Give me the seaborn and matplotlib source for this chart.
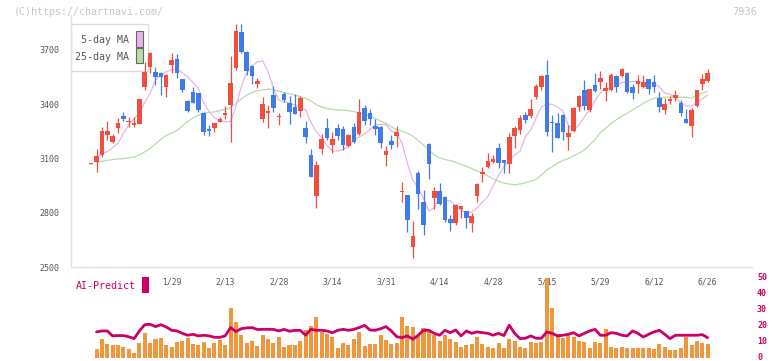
import numpy as np
import matplotlib
matplotlib.use("Agg")
import matplotlib.pyplot as plt
import matplotlib.transforms as mtransforms
from matplotlib.patches import Rectangle
import seaborn as sns

# ---- data ----
opens = [3073, 3082, 3120, 3231, 3194, 3271, 3333, 3300, 3286, 3291,
         3494, 3608, 3578, 3575, 3497, 3617, 3650, 3540, 3418, 3466,
         3461, 3350, 3262, 3268, 3304, 3341, 3396, 3599, 3798, 3687,
         3611, 3510, 3317, 3350, 3451, 3330, 3457, 3405, 3383, 3365,
         3269, 3120, 2895, 3153, 3269, 3175, 3269, 3264, 3170, 3276,
         3236, 3381, 3350, 3280, 3276, 3120, 3199, 3227, 2918, 2899,
         2614, 3019, 2862, 3181, 2881, 2921, 2890, 2768, 2746, 2824,
         2811, 2746, 2895, 3017, 3056, 3080, 3157, 3093, 3069, 3225,
         3258, 3339, 3335, 3442, 3497, 3562, 3300, 3295, 3339, 3221,
         3254, 3387, 3479, 3369, 3507, 3525, 3475, 3479, 3556, 3558,
         3571, 3494, 3512, 3494, 3538, 3521, 3437, 3369, 3420, 3433,
         3409, 3319, 3282, 3390, 3512, 3529]
highs = [3076, 3152, 3275, 3308, 3235, 3323, 3359, 3332, 3332, 3432,
         3635, 3687, 3608, 3578, 3565, 3685, 3678, 3542, 3422, 3494,
         3463, 3360, 3286, 3300, 3332, 3390, 3667, 3842, 3842, 3695,
         3615, 3547, 3439, 3396, 3501, 3350, 3468, 3446, 3459, 3446,
         3308, 3153, 3087, 3236, 3326, 3247, 3291, 3280, 3235, 3298,
         3431, 3396, 3372, 3319, 3280, 3172, 3231, 3280, 2973, 2900,
         2757, 3032, 2927, 3188, 2945, 2967, 2893, 2789, 2848, 2840,
         2813, 2801, 2967, 3052, 3129, 3120, 3185, 3095, 3240, 3280,
         3339, 3355, 3429, 3512, 3562, 3645, 3340, 3350, 3345, 3286,
         3387, 3451, 3534, 3485, 3575, 3586, 3525, 3575, 3562, 3603,
         3578, 3512, 3562, 3562, 3540, 3562, 3466, 3437, 3446, 3479,
         3424, 3374, 3378, 3481, 3567, 3595]
lows = [3070, 3028, 3110, 3203, 3185, 3241, 3310, 3276, 3276, 3289,
        3479, 3571, 3507, 3452, 3442, 3575, 3544, 3468, 3355, 3405,
        3358, 3233, 3225, 3245, 3300, 3320, 3194, 3590, 3685, 3562,
        3510, 3488, 3304, 3271, 3359, 3286, 3413, 3291, 3345, 3328,
        3185, 2998, 2829, 3126, 3203, 3130, 3203, 3150, 3162, 3186,
        3231, 3286, 3286, 3231, 3157, 3061, 3151, 3162, 2862, 2697,
        2553, 2822, 2678, 2986, 2822, 2845, 2750, 2700, 2735, 2771,
        2719, 2697, 2862, 2969, 3050, 3075, 3050, 3022, 3022, 3160,
        3234, 3298, 3323, 3429, 3479, 3225, 3138, 3214, 3203, 3148,
        3249, 3363, 3369, 3358, 3470, 3485, 3418, 3475, 3470, 3550,
        3465, 3429, 3460, 3488, 3457, 3470, 3356, 3345, 3402, 3418,
        3337, 3296, 3221, 3385, 3479, 3525]
closes = [3073, 3114, 3253, 3253, 3227, 3295, 3321, 3305, 3295, 3429,
          3578, 3685, 3549, 3550, 3562, 3645, 3571, 3479, 3363, 3409,
          3369, 3245, 3255, 3295, 3319, 3350, 3516, 3805, 3691, 3584,
          3558, 3530, 3402, 3363, 3381, 3333, 3424, 3359, 3348, 3437,
          3221, 3000, 3065, 3208, 3214, 3208, 3225, 3175, 3229, 3190,
          3358, 3310, 3317, 3265, 3188, 3144, 3175, 3247, 2923, 2761,
          2673, 2905, 2734, 3070, 2921, 2850, 2761, 2746, 2844, 2838,
          2774, 2783, 2960, 3026, 3087, 3098, 3074, 3074, 3218, 3269,
          3324, 3313, 3374, 3501, 3556, 3249, 3295, 3216, 3249, 3243,
          3381, 3448, 3390, 3485, 3475, 3547, 3490, 3562, 3497, 3595,
          3470, 3464, 3530, 3521, 3485, 3494, 3387, 3402, 3429, 3451,
          3354, 3298, 3369, 3479, 3540, 3575]

ma5 = [np.nan, 3111, 3125, 3138, 3160, 3185, 3240, 3286, 3320, 3352,
       3410, 3462, 3534, 3560, 3580, 3590, 3595, 3575, 3552, 3520,
       3488, 3407, 3360, 3324, 3310, 3304, 3304, 3387, 3497, 3573,
       3610, 3635, 3639, 3580, 3488, 3424, 3412, 3407, 3395, 3383,
       3369, 3300, 3250, 3214, 3170, 3142, 3142, 3150, 3166, 3203,
       3220, 3236, 3260, 3286, 3291, 3287, 3253, 3241, 3185, 3074,
       2982, 2940, 2880, 2810, 2830, 2890, 2872, 2866, 2840, 2816,
       2800, 2805, 2830, 2860, 2890, 2950, 3010, 3055, 3090, 3120,
       3140, 3221, 3258, 3324, 3387, 3400, 3400, 3385, 3365, 3286,
       3258, 3286, 3330, 3369, 3420, 3465, 3488, 3488, 3500, 3520,
       3525, 3525, 3525, 3522, 3518, 3516, 3497, 3461, 3455, 3435,
       3410, 3391, 3391, 3410, 3430, 3451]
ma25 = [np.nan, 3080, 3085, 3090, 3095, 3098, 3101, 3105, 3110, 3120,
        3138, 3157, 3182, 3207, 3228, 3240, 3255, 3280, 3305, 3325,
        3340, 3350, 3355, 3358, 3365, 3372, 3380, 3405, 3430, 3450,
        3465, 3475, 3480, 3483, 3483, 3472, 3465, 3458, 3451, 3442,
        3433, 3418, 3398, 3385, 3378, 3372, 3369, 3367, 3365, 3360,
        3352, 3345, 3335, 3322, 3308, 3295, 3275, 3262, 3252, 3240,
        3225, 3200, 3175, 3150, 3120, 3105, 3095, 3089, 3080, 3068,
        3058, 3045, 3032, 3020, 3005, 2988, 2975, 2965, 2960, 2955,
        2960, 2966, 2975, 2985, 3010, 3037, 3055, 3075, 3090, 3100,
        3115, 3130, 3148, 3175, 3205, 3245, 3268, 3295, 3315, 3335,
        3350, 3370, 3387, 3405, 3420, 3433, 3436, 3439, 3440, 3440,
        3440, 3438, 3435, 3450, 3462, 3470]

volume = [np.nan, 5.6, 11.9, 8.75, 8.1, 8.1, 7.3, 5.6, 3.5, 9.4,
          15.6, 9.8, 11.9, 12.5, 8.1, 7.3, 10.2, 10.8, 12.5, 8.75,
          8.1, 10.2, 6.7, 9.4, 11.25, 8.1, 31.7, 22.7, 14.4, 9.4,
          10.8, 7.5, 14.4, 11.9, 9.4, 13.5, 7.3, 8.1, 8.1, 10.8,
          17.5, 20.2, 25.8, 16.5, 15, 13.5, 6.25, 9.4, 8.1, 11.9,
          16.5, 7.7, 8.75, 8.75, 14.4, 11.25, 8.75, 9.4, 25.8, 20.2,
          19.6, 14, 18.75, 17.1, 14.4, 10.8, 14.4, 11.9, 10.2, 7.1,
          8.1, 8.75, 13.5, 8.75, 7.3, 6.25, 9.8, 6.25, 11.9, 10.8,
          7.3, 6.25, 10.2, 9.4, 10.2, 50, 31.25, 15, 12.5, 14.4,
          13.5, 10.8, 10.2, 6.25, 10.2, 9.4, 18.1, 7.3, 6.25, 7.3,
          6.7, 6.7, 6.25, 6.7, 6.7, 5.6, 8.75, 7.3, 5, 5,
          6.7, 13.3, 8.1, 10.8, 9.8, 8.75]
ai_predict = [np.nan, 16.5, 17.1, 17.1, 14, 14.2, 14.2, 13.5, 12.3, 17.1,
              21, 21.25, 19.8, 21, 19.6, 17.5, 17.1, 15.6, 14.4, 15,
              14, 14.4, 14, 13.1, 13.1, 14, 19.2, 16.7, 18.5, 19,
              19.2, 18, 18.1, 18.1, 18.1, 17.1, 18.1, 16.9, 17.5, 17.5,
              14.4, 18.1, 17.5, 17.5, 17.1, 16, 17.5, 18.1, 17.5, 18.1,
              19.2, 20.6, 17.7, 17.5, 18.5, 19.8, 17.1, 13.5, 12.9, 14,
              11.9, 14.4, 17.5, 17.5, 15.6, 14.4, 17.5, 16, 17.7, 14,
              17.1, 15.6, 16.5, 16, 15.6, 14.4, 15.6, 14.2, 20.7, 15.6,
              12.3, 12.5, 14, 12.5, 12.5, 16.5, 15.6, 14, 14.4, 15,
              16, 14, 15.6, 17.1, 18.1, 14.4, 14.4, 16, 15.6, 14.4,
              14, 17.1, 15.6, 13.3, 15, 16.5, 17.5, 15, 12.3, 14.4,
              14.4, 14.4, 14.4, 14.4, 14.8, 12.9]

date_labels = ['1/29', '2/13', '2/28', '3/14', '3/31', '4/14',
               '4/28', '5/15', '5/29', '6/12', '6/26']
date_pos = [15, 25, 35, 45, 55, 65, 75, 85, 95, 105, 115]
price_ticks = [2500, 2800, 3100, 3400, 3700]
vol_ticks = [0, 10, 20, 30, 40, 50]

# ---- styling ----
sns.set_style("white")
plt.rcParams['font.family'] = ['DejaVu Sans Mono']

RED = '#f04e3e'
BLUE = '#407be8'
ORANGE = '#f0963c'
CRIMSON = '#cc0066'
PINK = '#e9b3e9'
GREEN = '#b6dcaa'
GRID = '#e0e0e0'
TXT = '#555555'

W, H = 772, 361
fig = plt.figure(figsize=(W / 100, H / 100), dpi=100)
fig.patch.set_facecolor('white')


def fx(x):
    return x / W


def fy(y):
    return 1 - y / H


idx = np.arange(len(closes))
o = np.array(opens, float)
c = np.array(closes, float)
hi = np.array(highs, float)
lo = np.array(lows, float)
cols = np.where(c >= o, RED, BLUE)
xlim = (-3.82, 123.34)

# main price panel
ax = fig.add_axes([fx(70.7), fy(267.3), fx(752.3) - fx(70.7), fy(15) - fy(267.3)])
ax.patch.set_alpha(0)

sns.lineplot(x=idx, y=ma25, ax=ax, color=GREEN, linewidth=0.9, zorder=1.5)
sns.lineplot(x=idx, y=ma5, ax=ax, color=PINK, linewidth=0.9, zorder=1.6)
ax.vlines(idx, lo, hi, colors=cols, linewidth=0.9, zorder=2)
ax.bar(idx, np.maximum(np.abs(c - o), 4), bottom=np.minimum(o, c), width=0.85,
       color=cols, linewidth=0, zorder=3)

ax.set_xlim(*xlim)
ax.set_ylim(2500, 3893)
ax.set_xticks(np.linspace(xlim[0], xlim[1], 12))
ax.set_xticklabels([])
ax.set_yticks(price_ticks)
ax.set_yticklabels([str(t) for t in price_ticks], fontsize=6, color=TXT)
ax.tick_params(axis='y', length=4, width=1, color=GRID, pad=4)
ax.tick_params(axis='x', direction='inout', length=3.6, width=1, color=GRID)
for s in ['top', 'right']:
    ax.spines[s].set_visible(False)
for s in ['left', 'bottom']:
    ax.spines[s].set_color(GRID)
    ax.spines[s].set_linewidth(1)
ax.set_xlabel('')
ax.set_ylabel('')

# lower panel: volume + AI-Predict
axv = fig.add_axes([fx(70.7), fy(358.3), fx(752.3) - fx(70.7), fy(278.3) - fy(358.3)])
axv.patch.set_alpha(0)
axv.bar(idx, volume, width=0.75, color=ORANGE, linewidth=0, zorder=2)
sns.lineplot(x=idx, y=ai_predict, ax=axv, color=CRIMSON, linewidth=2.0, zorder=3)
axv.set_xlim(*xlim)
axv.set_ylim(0, 50)
axv.set_xticks([])
axv.yaxis.tick_right()
axv.set_yticks(vol_ticks)
axv.set_yticklabels([str(t) for t in vol_ticks], fontsize=6, color=CRIMSON,
                    fontweight='bold')
axv.tick_params(axis='y', length=0, pad=3.4)
up = mtransforms.ScaledTranslation(0, 1.2 / 72, fig.dpi_scale_trans)
for lbl in axv.get_yticklabels():
    lbl.set_transform(lbl.get_transform() + up)
for s in axv.spines.values():
    s.set_visible(False)
axv.set_xlabel('')
axv.set_ylabel('')

trans = mtransforms.blended_transform_factory(axv.transData, axv.transAxes)
for p, lab in zip(date_pos, date_labels):
    axv.text(p, 0.951, lab, transform=trans, ha='center', va='center',
             fontsize=5.8, color=TXT, zorder=1)

# legend box
fig.add_artist(Rectangle((fx(70.7), fy(71)), fx(148.3) - fx(70.7), fy(24.3) - fy(71),
                         transform=fig.transFigure, facecolor='none',
                         edgecolor='#dddddd', linewidth=1, zorder=-1))
for yc, y0, y1, lab, fc in [(40, 31, 46.7, '5-day MA', PINK),
                             (57.3, 48.3, 63.3, '25-day MA', GREEN)]:
    fig.text(fx(129.3), fy(yc), lab, ha='right', va='center', fontsize=7.2, color=TXT)
    fig.add_artist(Rectangle((fx(136), fy(y1)), fx(142.7) - fx(136), fy(y0) - fy(y1),
                             transform=fig.transFigure, facecolor=fc,
                             edgecolor='#666666', linewidth=0.8))

# AI-Predict label
fig.text(fx(76), fy(286), 'AI-Predict', ha='left', va='center', fontsize=7.2, color=CRIMSON)
fig.add_artist(Rectangle((fx(142.3), fy(292.7)), fx(148.7) - fx(142.3), fy(277.3) - fy(292.7),
                         transform=fig.transFigure, facecolor=CRIMSON, edgecolor='none'))

# watermark and code
fig.text(fx(14), fy(12), '(C)https://chartnavi.com/', ha='left', va='center',
         fontsize=7.2, color='#c8c8c8')
fig.text(fx(757.3), fy(12), '7936', ha='right', va='center', fontsize=7.5, color='#c8c8c8')

fig.savefig('out.png', dpi=100)
